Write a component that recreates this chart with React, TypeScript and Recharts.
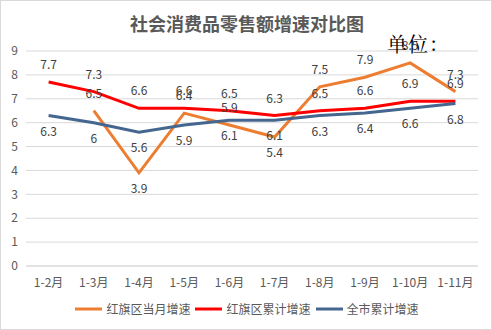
import React from 'react';
import { LineChart, Line, XAxis, YAxis, CartesianGrid, LabelList } from 'recharts';

const categories = ['1-2月', '1-3月', '1-4月', '1-5月', '1-6月', '1-7月', '1-8月', '1-9月', '1-10月', '1-11月'];
const hongqiMonthly: (number | null)[] = [null, 6.5, 3.9, 6.4, 5.9, 5.4, 7.5, 7.9, 8.5, 7.3];
const hongqiCumulative = [7.7, 7.3, 6.6, 6.6, 6.5, 6.3, 6.5, 6.6, 6.9, 6.9];
const cityCumulative = [6.3, 6.0, 5.6, 5.9, 6.1, 6.1, 6.3, 6.4, 6.6, 6.8];
const yTicks = [0, 1, 2, 3, 4, 5, 6, 7, 8, 9];
const seriesNames = ['红旗区当月增速', '红旗区累计增速', '全市累计增速'];
const colors = ['#ED7D31', '#FF0000', '#44668F'];

const data = categories.map((c, i) => ({
  name: c,
  monthly: hongqiMonthly[i],
  cumulative: hongqiCumulative[i],
  city: cityCumulative[i],
}));

const FONT = '"Noto Sans CJK SC", "Noto Sans", sans-serif';
const belowMonthly = new Set([2, 5]);

const makeLabel = (mode: 'above' | 'below' | 'monthly') => (props: any) => {
  const { x, y, value, index } = props;
  if (value === null || value === undefined) return null;
  let below = mode === 'below';
  if (mode === 'monthly') below = belowMonthly.has(index);
  const dy = below ? 20 : -13;
  return (
    <text x={x} y={y + dy} textAnchor="middle" fontSize={12} fill="#404040" fontFamily={FONT}>
      {String(value)}
    </text>
  );
};

export default function App() {
  return (
    <div
      style={{
        position: 'fixed',
        left: 0,
        top: 0,
        width: 492,
        height: 330,
        background: '#fff',
        border: '1px solid #d9d9d9',
        boxSizing: 'border-box',
        fontFamily: FONT,
      }}
    >
      <div
        style={{
          position: 'absolute',
          left: 0,
          top: 9,
          width: 492,
          textAlign: 'center',
          fontSize: 18,
          fontWeight: 'bold',
          color: '#595959',
          lineHeight: '26px',
        }}
      >
        社会消费品零售额增速对比图
      </div>
      <div style={{ position: 'absolute', left: 0, top: -1 }}>
        <LineChart width={492} height={330} data={data} margin={{ top: 51, right: 15, bottom: 34, left: 0 }}>
          <CartesianGrid vertical={false} stroke="#d9d9d9" />
          <XAxis
            dataKey="name"
            scale="band"
            axisLine={{ stroke: '#d9d9d9' }}
            tickLine={false}
            tickMargin={6}
            height={30}
            interval={0}
            tick={{ fontSize: 12, fill: '#595959', fontFamily: FONT }}
          />
          <YAxis
            width={25}
            domain={[0, 9]}
            ticks={yTicks}
            axisLine={false}
            tickLine={false}
            tick={{ fontSize: 12, fill: '#595959', fontFamily: FONT }}
          />
          <Line dataKey="monthly" stroke={colors[0]} strokeWidth={3} dot={false} isAnimationActive={false} connectNulls={false}>
            <LabelList dataKey="monthly" content={makeLabel('monthly')} />
          </Line>
          <Line dataKey="cumulative" stroke={colors[1]} strokeWidth={3} dot={false} isAnimationActive={false}>
            <LabelList dataKey="cumulative" content={makeLabel('above')} />
          </Line>
          <Line dataKey="city" stroke={colors[2]} strokeWidth={3} dot={false} isAnimationActive={false}>
            <LabelList dataKey="city" content={makeLabel('below')} />
          </Line>
        </LineChart>
      </div>
      <div
        style={{
          position: 'absolute',
          left: 386,
          top: 31,
          fontSize: 20,
          color: '#000',
          lineHeight: '24px',
          letterSpacing: 1,
          fontFamily: '"Noto Serif CJK SC", "Noto Sans CJK SC", serif',
        }}
      >
        单位：
      </div>
      <div
        style={{
          position: 'absolute',
          left: 0,
          top: 299,
          width: 492,
          display: 'flex',
          justifyContent: 'center',
          alignItems: 'center',
          fontSize: 12,
          color: '#595959',
          lineHeight: '18px',
        }}
      >
        {seriesNames.map((n, i) => (
          <div key={n} style={{ display: 'flex', alignItems: 'center', marginRight: i < 2 ? 5 : 0 }}>
            <svg width={27} height={6} style={{ marginRight: 4 }}>
              <line x1={0} y1={3} x2={27} y2={3} stroke={colors[i]} strokeWidth={3} />
            </svg>
            <span>{n}</span>
          </div>
        ))}
      </div>
    </div>
  );
}
